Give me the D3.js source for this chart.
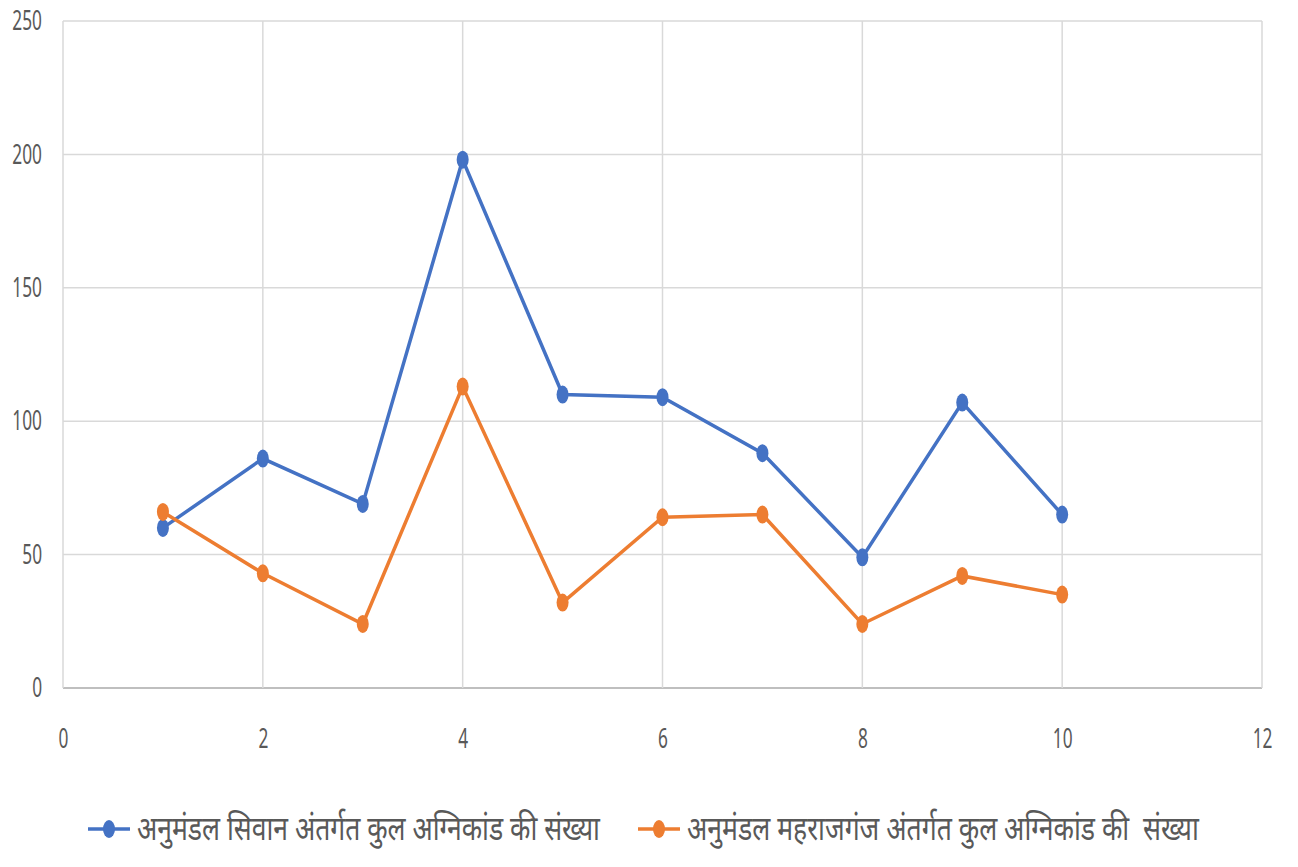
<!DOCTYPE html>
<html>
<head>
<meta charset="utf-8">
<script src="https://cdn.jsdelivr.net/npm/d3@7"></script>
<style>
  body { margin: 0; background: #fff; }
  text { font-family: "Noto Sans", sans-serif; fill: #595959; }
</style>
</head>
<body>
<div id="chart"></div>
<script>
// data
var xValues = [1, 2, 3, 4, 5, 6, 7, 8, 9, 10];
var siwan = [60, 86, 69, 198, 110, 109, 88, 49, 107, 65];
var maharajganj = [66, 43, 24, 113, 32, 64, 65, 24, 42, 35];
var seriesNames = ["अनुमंडल सिवान अंतर्गत कुल अग्निकांड की संख्या",
                   "अनुमंडल महराजगंज अंतर्गत कुल अग्निकांड की  संख्या"];
var colors = ["#4472C4", "#ED7D31"];
var xTicks = [0, 2, 4, 6, 8, 10, 12];
var yTicks = [0, 50, 100, 150, 200, 250];

var margin = {top: 21, right: 36, bottom: 179, left: 63},
    width = 1298 - margin.left - margin.right,
    height = 867 - margin.top - margin.bottom;

// text in the picture is drawn narrow
var squeeze = 0.64;

var svg = d3.select("#chart")
  .append("svg")
    .attr("width", 1298)
    .attr("height", 867)
  .append("g")
    .attr("transform", "translate(" + margin.left + "," + margin.top + ")");

var x = d3.scaleLinear().domain([0, 12]).range([0, width]);
var y = d3.scaleLinear().domain([0, 250]).range([height, 0]);

// grid
svg.append("g")
  .selectAll("line")
  .data(yTicks)
  .enter().append("line")
    .attr("x1", 0).attr("x2", width)
    .attr("y1", function(d) { return y(d); })
    .attr("y2", function(d) { return y(d); })
    .attr("stroke", function(d) { return d === 0 ? "#bfbfbf" : "#d9d9d9"; })
    .attr("stroke-width", function(d) { return d === 0 ? 2 : 1.5; });

svg.append("g")
  .selectAll("line")
  .data(xTicks)
  .enter().append("line")
    .attr("x1", function(d) { return x(d); })
    .attr("x2", function(d) { return x(d); })
    .attr("y1", 0).attr("y2", height)
    .attr("stroke", "#d9d9d9")
    .attr("stroke-width", 1.5);

// axes labels
var yAxis = svg.append("g")
  .call(d3.axisLeft(y).tickValues(yTicks).tickSize(0).tickPadding(21));
yAxis.select(".domain").remove();
yAxis.selectAll("text")
    .style("font-size", "27px")
    .attr("fill", "#595959")
    .attr("x", -21 / squeeze)
    .attr("transform", "scale(" + squeeze + ",1)");

var xAxis = svg.append("g")
  .attr("transform", "translate(0," + height + ")")
  .call(d3.axisBottom(x).tickValues(xTicks).tickSize(0).tickPadding(41));
xAxis.select(".domain").remove();
xAxis.selectAll("text")
    .style("font-size", "27px")
    .attr("fill", "#595959")
    .attr("transform", "scale(" + squeeze + ",1)");

// lines
var allSeries = [siwan, maharajganj];
var line = d3.line()
  .x(function(d, i) { return x(xValues[i]); })
  .y(function(d) { return y(d); });

allSeries.forEach(function(s, k) {
  svg.append("path")
    .datum(s)
    .attr("fill", "none")
    .attr("stroke", colors[k])
    .attr("stroke-width", 3.5)
    .attr("d", line);
  svg.append("g")
    .selectAll("ellipse")
    .data(s)
    .enter().append("ellipse")
      .attr("cx", function(d, i) { return x(xValues[i]); })
      .attr("cy", function(d) { return y(d); })
      .attr("rx", 6)
      .attr("ry", 9)
      .attr("fill", colors[k]);
});

// legend
var legendX = [88, 638];
var legendW = [463, 512];
var legend = d3.select("svg").append("g");
seriesNames.forEach(function(name, k) {
  var g = legend.append("g").attr("transform", "translate(" + legendX[k] + ",829)");
  g.append("line").attr("x1", 0).attr("x2", 42).attr("y1", 0).attr("y2", 0)
    .attr("stroke", colors[k]).attr("stroke-width", 3.5);
  g.append("ellipse").attr("cx", 21).attr("cy", 0).attr("rx", 6).attr("ry", 9).attr("fill", colors[k]);
  var t = g.append("text").attr("x", 0).attr("y", 11)
    .style("font-size", "34px")
    .style("white-space", "pre")
    .text(name);
  var w = t.node().getComputedTextLength();
  var sx = legendW[k] / w;
  t.attr("transform", "translate(49,0) scale(" + sx + ",1)");
});
</script>
</body>
</html>
